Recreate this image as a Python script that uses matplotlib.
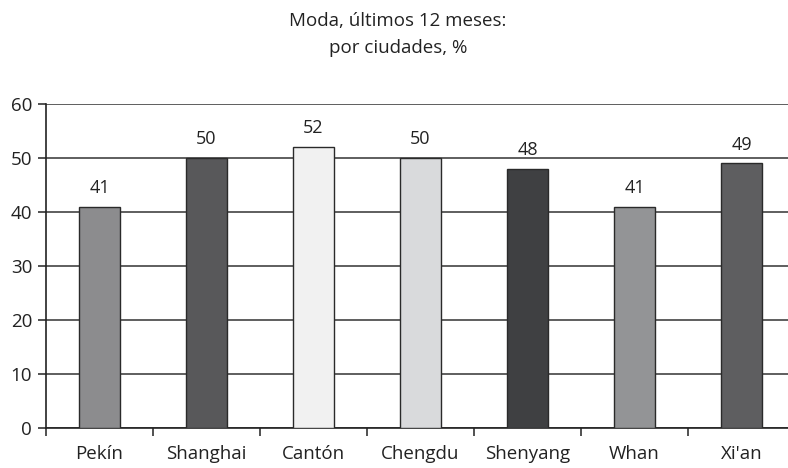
import matplotlib
matplotlib.use("Agg")
import matplotlib.pyplot as plt
import numpy as np

plt.rcParams['font.family'] = ['Open Sans', 'DejaVu Sans']

cities = ["Pekín", "Shanghai", "Cantón", "Chengdu", "Shenyang", "Whan", "Xi'an"]
values = [41, 50, 52, 50, 48, 41, 49]
bar_colors = ["#8c8c8e", "#58585a", "#f1f1f1", "#d9dadc", "#3f4042", "#939496", "#5e5e60"]
y_ticks = [0, 10, 20, 30, 40, 50, 60]
title_lines = ["Moda, últimos 12 meses:", "por ciudades, %"]

fig = plt.figure(figsize=(7.88, 4.68), dpi=100)
ax = fig.add_axes([46 / 788, 40 / 468, 749 / 788, 324 / 468])

x = np.arange(len(cities))
ax.bar(x, values, width=0.39, color=bar_colors, edgecolor="#2a2a2a",
       linewidth=1.0, zorder=3)

for xi, v in zip(x, values):
    ax.annotate(str(v), (xi, v), xytext=(0, 7), textcoords="offset points",
                ha="center", va="bottom", fontsize=13, color="#222222")

ax.set_xlim(-0.5, len(cities) - 0.5)
ax.set_ylim(0, 60)
ax.set_yticks(y_ticks)
ax.set_yticklabels([str(t) for t in y_ticks], fontsize=13.5, color="#222222")
ax.yaxis.grid(True, color="#333333", linewidth=1.1, zorder=0)
ax.set_axisbelow(True)

ax.set_xticks(np.arange(len(cities) + 1) - 0.5)
ax.set_xticklabels([])
ax.set_xticks(x, minor=True)
ax.set_xticklabels(cities, minor=True, fontsize=13.5, color="#222222")
ax.tick_params(axis="x", which="minor", length=0, pad=12)
ax.tick_params(axis="x", which="major", length=6, width=1.1, color="#222222", direction="out")
ax.tick_params(axis="y", length=6, width=1.1, color="#222222", pad=4)

for side in ["top", "right"]:
    ax.spines[side].set_visible(False)
for side in ["left", "bottom"]:
    ax.spines[side].set_color("#222222")
    ax.spines[side].set_linewidth(1.2)

fig.text(0.505, 1 - 21 / 468, title_lines[0], ha="center", va="center",
         fontsize=13.5, color="#222222")
fig.text(0.505, 1 - 48 / 468, title_lines[1], ha="center", va="center",
         fontsize=13.5, color="#222222")

fig.savefig("out.png", dpi=100)
